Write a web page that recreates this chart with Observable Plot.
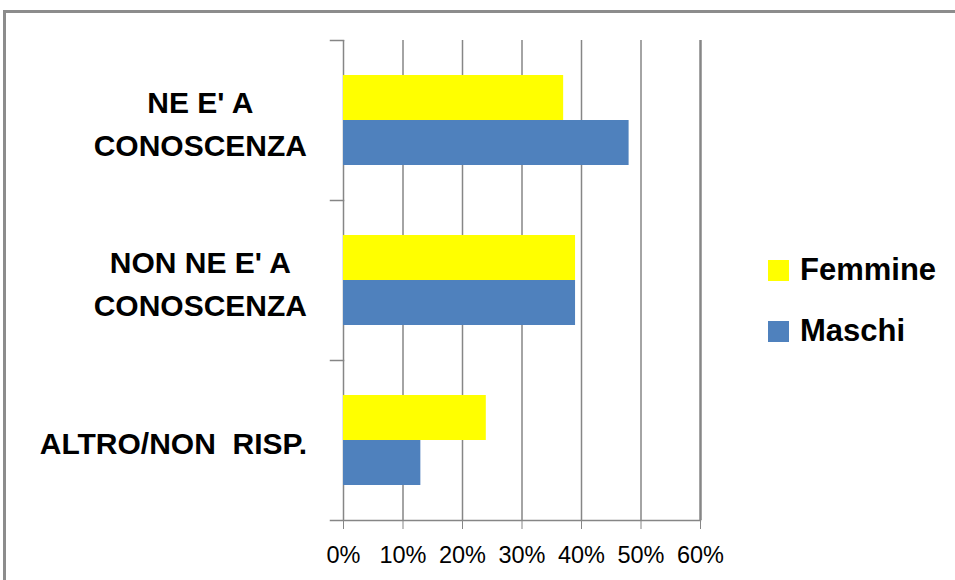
<!DOCTYPE html>
<html>
<head>
<meta charset="utf-8">
<script src="https://cdn.jsdelivr.net/npm/d3@7"></script>
<script src="https://cdn.jsdelivr.net/npm/@observablehq/plot@0.6"></script>
<style>
  html, body { margin: 0; padding: 0; background: #fff; }
  #chart { position: relative; width: 955px; height: 580px; overflow: hidden; font-family: "Liberation Sans", Arial, sans-serif; }
  #chart svg { position: absolute; left: 0; top: 0; }
  .frame-edge { position: absolute; left: 3px; top: 10px; width: 1000px; height: 1000px;
    border-top: 3px solid #8c8c8c; border-left: 3px solid #8c8c8c; box-sizing: border-box; pointer-events: none; }
  .legend { position: absolute; left: 768px; top: 250px; }
  .legend .item { display: flex; align-items: center; height: 40px; margin-bottom: 21px; }
  .legend .sw { width: 21px; height: 21px; margin-right: 11px; }
  .legend .lab { font-weight: bold; font-size: 31px; color: #000; }
</style>
</head>
<body>
<div id="chart"><div class="frame-edge"></div></div>
<script>
// Survey answers by gender (percent of respondents)
const categories = ["NE E' A\nCONOSCENZA", "NON NE E' A\nCONOSCENZA", "ALTRO/NON  RISP."];
const series = ["Femmine", "Maschi"];
const femmine = [37, 39, 24];
const maschi = [48, 39, 13];
const xTicks = [0, 10, 20, 30, 40, 50, 60];
const colors = ["#FFFF00", "#4F81BD"];

const rows = categories.flatMap((c, i) => [
  {category: c, series: series[0], value: femmine[i]},
  {category: c, series: series[1], value: maschi[i]}
]);

const grey = "#868686";
const W = 955, ML = 343, MR = 255;

const chart = Plot.plot({
  width: W,
  height: 580,
  marginLeft: ML,
  marginRight: MR,
  marginTop: 40,
  marginBottom: 60,
  style: {fontFamily: "'Liberation Sans', Arial, sans-serif", background: "transparent", color: "#000", overflow: "visible"},
  x: {domain: [xTicks[0], xTicks[xTicks.length - 1]]},
  y: {domain: series, paddingInner: 0, paddingOuter: 0.758, axis: null},
  fy: {domain: categories, padding: 0},
  color: {domain: series, range: colors},
  marks: [
    Plot.gridX({ticks: xTicks.slice(0, -1), stroke: grey, strokeOpacity: 1, strokeWidth: 1.5}),
    Plot.ruleX(xTicks.slice(-1), {stroke: grey, strokeWidth: 2.5}),
    Plot.barX(rows, {x: "value", y: "series", fy: "category", fill: "series"}),
    // short category separators left of the value axis
    Plot.frame({anchor: "top", stroke: grey, strokeWidth: 1.5, insetLeft: -13, insetRight: W - ML - MR}),
    // horizontal axis line
    Plot.frame({anchor: "bottom", facetAnchor: "bottom", stroke: grey, strokeWidth: 1.5, insetLeft: -13}),
    Plot.axisX({ticks: xTicks, tickFormat: d => d + "%", tickSize: 9, tickPadding: 16.5,
      fontSize: 23.5, stroke: grey, label: null}),
    Plot.axisFy({anchor: "left", tickSize: 0, tickPadding: 36, label: null, fontSize: 30,
      fontWeight: "bold", lineHeight: 1.43, textAnchor: "middle"})
  ]
});

const root = document.getElementById("chart");
root.appendChild(chart);

// Category labels: lines centred inside a block whose right edge sits by the axis
const labelRight = ML - 36;
chart.querySelectorAll('g[aria-label="fy-axis tick label"] text').forEach(t => {
  t.style.whiteSpace = "pre";
  const b = t.getBBox();
  const ctm = t.getCTM();
  const right = ctm.e + (b.x + b.width) * ctm.a;
  const shift = labelRight - right;
  const tr = t.getAttribute("transform") || "";
  t.setAttribute("transform", `${tr} translate(${shift},0)`);
});

// Legend built from the chart's colour scale
const color = chart.scale("color");
const legend = document.createElement("div");
legend.className = "legend";
color.domain.forEach((name, i) => {
  const item = document.createElement("div");
  item.className = "item";
  const sw = document.createElement("div");
  sw.className = "sw";
  sw.style.background = color.range[i];
  const lab = document.createElement("span");
  lab.className = "lab";
  lab.textContent = name;
  item.append(sw, lab);
  legend.appendChild(item);
});
root.appendChild(legend);
</script>
</body>
</html>
